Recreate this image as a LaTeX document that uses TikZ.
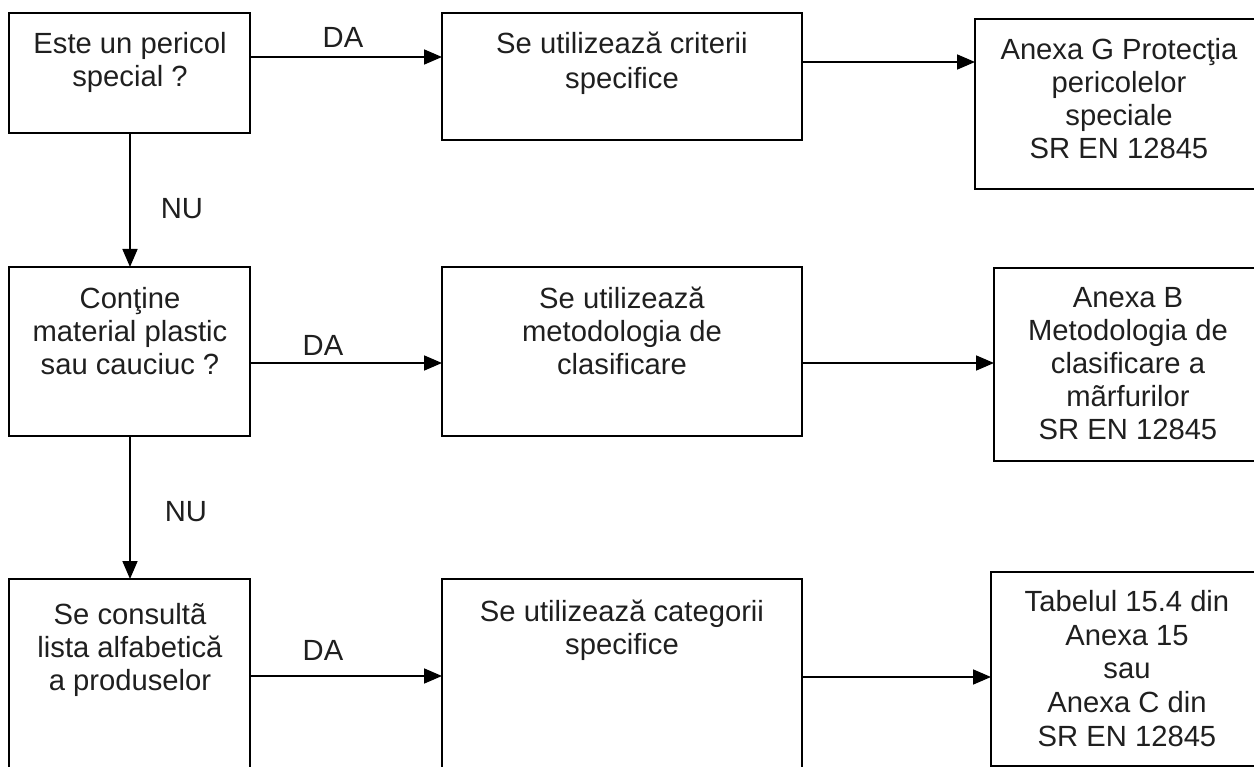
\documentclass[tikz,border=0pt]{standalone}
\usepackage{fontspec}
\setmainfont{Liberation Sans}
\usetikzlibrary{arrows.meta,calc}
\begin{document}
\begin{tikzpicture}[x=1pt,y=-1pt,
  box/.style={draw=black, line width=1.9pt, rectangle, inner sep=0pt, outer sep=0pt},
  txt/.style={anchor=north, inner sep=0pt, align=center, text=black!88, font=\fontsize{29.2}{33}\selectfont},
  lbl/.style={inner sep=0pt, text=black!88, font=\fontsize{29.2}{33}\selectfont},
  arr/.style={line width=1.8pt, -{Triangle[length=18pt,width=15pt]}}]
\useasboundingbox (0,0) rectangle (1254,767);
\clip (0,0) rectangle (1254,767);
% boxes
\node[box, minimum width=241pt, minimum height=120pt] (a1) at (129.5,73) {};
\node[box, minimum width=360pt, minimum height=127pt] (b1) at (622,76.5) {};
\node[box, minimum width=287pt, minimum height=170pt] (c1) at (1118.5,104) {};
\node[box, minimum width=241pt, minimum height=169pt] (a2) at (129.5,351.5) {};
\node[box, minimum width=360pt, minimum height=169pt] (b2) at (622,351.5) {};
\node[box, minimum width=268pt, minimum height=193pt] (c2) at (1128,364.5) {};
\node[box, minimum width=241pt, minimum height=221pt] (a3) at (129.5,689.5) {};
\node[box, minimum width=360pt, minimum height=221pt] (b3) at (622,689.5) {};
\node[box, minimum width=272pt, minimum height=194pt] (c3) at (1127,669) {};
% texts
\node[txt] (ta1) at (130,32) {Este un pericol\\special ?};
\node[txt, font=\fontsize{29.2}{35}\selectfont] (tb1) at (622,32) {Se utilizează criterii\\specifice};
\node[txt] (tc1) at (1119,38) {Anexa G Protecţia\\pericolelor\\speciale\\SR EN 12845};
\node[txt] (ta2) at (130,287) {Conţine\\material plastic\\sau cauciuc ?};
\node[txt] (tb2) at (622,287) {Se utilizează\\metodologia de\\clasificare};
\node[txt] (tc2) at (1128,287) {Anexa B\\Metodologia de\\clasificare a\\mãrfurilor\\SR EN 12845};
\node[txt] (ta3) at (130,603) {Se consultã\\lista alfabetică\\a produselor};
\node[txt] (tb3) at (622,600) {Se utilizează categorii\\specifice};
\node[txt, font=\fontsize{29.2}{33.7}\selectfont] (tc3) at (1127,590) {Tabelul 15.4 din\\Anexa 15\\sau\\Anexa C din\\SR EN 12845};
% connector start points
\coordinate (s1) at ([yshift=-44pt]a1.north east);
\coordinate (s2) at ([yshift=-49pt]b1.north east);
\coordinate (s3) at ([yshift=-96pt]a2.north east);
\coordinate (s4) at ([yshift=-96pt]b2.north east);
\coordinate (s5) at ([yshift=-97pt]a3.north east);
\coordinate (s6) at ([yshift=-98pt]b3.north east);
% connectors
\draw[arr] (s1) -- (s1 -| b1.west);
\draw[arr] (s2) -- (s2 -| c1.west);
\draw[arr] (s3) -- (s3 -| b2.west);
\draw[arr] (s4) -- (s4 -| c2.west);
\draw[arr] (s5) -- (s5 -| b3.west);
\draw[arr] (s6) -- (s6 -| c3.west);
\draw[arr] ([xshift=0.5pt]a1.south) -- ([xshift=0.5pt]a2.north);
\draw[arr] ([xshift=0.5pt]a2.south) -- ([xshift=0.5pt]a3.north);
% labels
\node[lbl] (da1) at (343,37) {DA};
\node[lbl] (da2) at (323,345) {DA};
\node[lbl] (da3) at (323,650) {DA};
\node[lbl] (nu1) at (182,209) {NU};
\node[lbl] (nu2) at (186,512) {NU};
\end{tikzpicture}
\end{document}
